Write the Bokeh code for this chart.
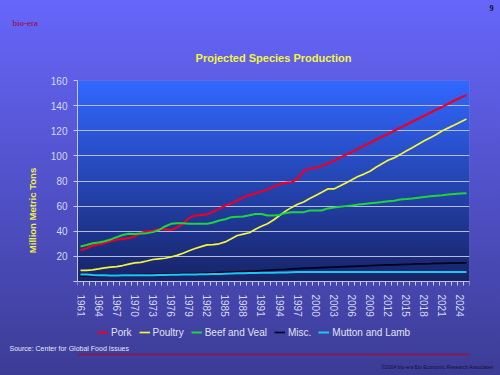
import numpy as np
from bokeh.plotting import figure
from bokeh.models import (Range1d, FixedTicker, Legend, LegendItem, Title, LinearAxis, BoxAnnotation)
from bokeh.embed import file_html
from bokeh.resources import INLINE

years = list(range(1961, 2026))
pork = [24.7, 26.5, 28.5, 29.5, 30.5, 32.0, 33.4, 34.0, 34.5, 36.0,
        38.5, 40.0, 40.3, 41.8, 41.5, 41.0, 43.0, 46.0, 50.5, 52.5,
        53.0, 53.5, 55.5, 58.0, 60.5, 62.0, 64.5, 67.0, 68.8, 70.0,
        71.8, 73.0, 75.5, 77.5, 78.5, 79.0, 82.0, 88.0, 90.0, 90.3,
        92.0, 94.0, 96.0, 98.5, 100.8, 103.0, 105.5, 108.0, 110.3, 112.8,
        115.2, 117.5, 120.0, 122.3, 124.8, 127.2, 129.5, 132.0, 134.3, 136.8,
        139.0, 141.5, 144.0, 146.3, 148.5]
poultry = [8.8, 8.8, 9.2, 10.0, 10.9, 11.5, 11.9, 12.7, 13.8, 14.8,
           15.2, 16.3, 17.5, 18.0, 18.5, 19.5, 20.8, 22.5, 24.5, 26.3,
           27.8, 29.2, 29.3, 30.0, 31.5, 34.0, 36.6, 37.7, 38.8, 41.5,
           44.0, 46.0, 49.0, 52.5, 56.0, 59.0, 61.5, 63.3, 66.0, 68.4,
           71.0, 73.7, 73.7, 76.0, 78.5, 81.0, 83.6, 85.5, 87.8, 91.0,
           93.8, 96.5, 98.4, 101.0, 103.8, 106.5, 109.2, 112.0, 114.5, 117.0,
           120.0, 122.3, 124.5, 127.0, 129.4]
beef = [27.9, 29.0, 30.5, 31.0, 32.1, 33.5, 35.3, 37.0, 38.0, 37.9,
        38.2, 38.5, 39.3, 41.0, 43.8, 45.9, 46.3, 46.4, 46.0, 45.9,
        45.9, 45.9, 47.0, 48.5, 49.5, 51.2, 51.5, 51.7, 52.8, 53.8,
        53.8, 52.5, 52.5, 53.0, 54.5, 55.2, 55.2, 55.2, 56.5, 56.5,
        56.5, 58.2, 58.8, 59.5, 60.0, 60.5, 61.2, 61.7, 62.2, 62.7,
        63.2, 63.8, 64.3, 65.3, 65.6, 66.0, 66.6, 67.2, 67.8, 68.3,
        68.7, 69.2, 69.6, 70.0, 70.3]
misc = [4.3, 4.5, 4.6, 4.8, 4.9, 5.0, 5.1, 5.2, 5.3, 5.4,
        5.5, 5.6, 5.7, 5.8, 5.9, 6.0, 6.1, 6.2, 6.2, 6.3,
        6.5, 6.7, 6.9, 7.1, 7.3, 7.5, 7.7, 7.9, 8.1, 8.3,
        8.6, 8.9, 9.2, 9.5, 9.7, 10.0, 10.2, 10.4, 10.6, 10.8,
        11.0, 11.2, 11.4, 11.6, 11.8, 12.0, 12.2, 12.4, 12.6, 12.8,
        13.0, 13.2, 13.3, 13.5, 13.7, 13.8, 14.0, 14.1, 14.2, 14.4,
        14.5, 14.6, 14.7, 14.8, 14.9]
mutton = [5.6, 5.5, 5.2, 5.0, 4.9, 4.8, 4.8, 4.9, 4.9, 5.0,
          5.0, 5.0, 5.0, 5.1, 5.2, 5.3, 5.4, 5.5, 5.5, 5.6,
          5.7, 5.8, 5.9, 6.0, 6.2, 6.4, 6.5, 6.6, 6.7, 6.8,
          6.9, 7.0, 7.0, 7.1, 7.2, 7.4, 7.6, 7.6, 7.6, 7.6,
          7.6, 7.6, 7.6, 7.6, 7.6, 7.6, 7.6, 7.6, 7.6, 7.6,
          7.6, 7.6, 7.6, 7.6, 7.6, 7.6, 7.6, 7.6, 7.6, 7.6,
          7.6, 7.6, 7.6, 7.6, 7.6]
series_names = ["Pork", "Poultry", "Beef and Veal", "Misc.", "Mutton and Lamb"]
series_colors = ["#E8002A", "#F5F53A", "#1ED63A", "#000022", "#1CC8F0"]
tick_years = [1961, 1964, 1967, 1970, 1973, 1976, 1979, 1982, 1985, 1988, 1991,
              1994, 1997, 2000, 2003, 2006, 2009, 2012, 2015, 2018, 2021, 2024]
y_ticks = [0, 20, 40, 60, 80, 100, 120, 140, 160]

W, H = 500, 375
FL, FR, FT = 77, 469, 80      # plot-area left/right/top (px)
Y0PX = 281                    # pixel row of value 0
FB = 340                      # frame extends below the plot area to hold the legend
FONT = "Liberation Sans"
YMAX = 160
units_per_px = YMAX / (Y0PX - FT)
y_start = -(FB - Y0PX) * units_per_px

p = figure(frame_width=FR - FL, frame_height=FB - FT, output_backend="svg", toolbar_location=None,
           x_range=Range1d(1960.5, 2025.5), y_range=Range1d(y_start, YMAX), title=None,
           min_border_left=FL, min_border_right=W - FR, min_border_top=FT, min_border_bottom=0)
p.styles = {"background": "linear-gradient(to bottom, rgb(102,102,250) 0px, rgb(81,81,201) 187px, "
                          "rgb(60,60,150) 375px, rgb(60,60,150) 100%)"}
p.border_fill_color = None
p.background_fill_color = None
p.outline_line_color = None

# plot-area gradient
N = 100
img = np.zeros((N, 1), dtype=np.uint32)
view = img.view(dtype=np.uint8).reshape((N, 1, 4))
top_c = np.array([50, 104, 255])
bot_c = np.array([24, 36, 104])
for i in range(N):
    t = i / (N - 1)
    c = bot_c + (top_c - bot_c) * t
    view[i, 0, 0] = int(c[0]); view[i, 0, 1] = int(c[1]); view[i, 0, 2] = int(c[2]); view[i, 0, 3] = 255
p.image_rgba(image=[img], x=1960.5, y=0, dw=65, dh=YMAX, level="image")
p.add_layout(BoxAnnotation(left=1960.5, right=2025.5, bottom=0, top=YMAX, fill_alpha=0,
                           line_color="#A8B0D8", line_width=1))

# grid
p.xgrid.grid_line_color = None
p.ygrid.grid_line_color = "#B4BCDC"
p.ygrid.grid_line_width = 1.2
p.ygrid.ticker = FixedTicker(ticks=y_ticks)

# y axis
p.yaxis.ticker = FixedTicker(ticks=y_ticks)
p.yaxis.bounds = (0, YMAX)
p.yaxis.major_label_overrides = {0: ""}
p.yaxis.axis_label = "Million Metric Tons"
p.yaxis.axis_label_text_font = FONT
p.yaxis.axis_label_text_font_style = "bold"
p.yaxis.axis_label_text_font_size = "9.5px"
p.yaxis.axis_label_text_color = "#F0F040"
p.yaxis.axis_label_standoff = 10
p.yaxis.major_label_text_font = FONT
p.yaxis.major_label_text_font_size = "10px"
p.yaxis.major_label_text_color = "#D4D8F2"
p.yaxis.major_label_standoff = 6
p.yaxis.axis_line_color = "#C8CCE8"
p.yaxis.major_tick_line_color = "#C8CCE8"
p.yaxis.major_tick_out = 4
p.yaxis.major_tick_in = 0
p.yaxis.minor_tick_line_color = None

# x axis (drawn at value 0)
xa = p.xaxis[0]
xa.fixed_location = 0
xa.ticker = FixedTicker(ticks=tick_years, minor_ticks=[y - 0.5 for y in years] + [2025.5])
xa.major_label_overrides = {y: str(y) for y in tick_years}
xa.major_label_orientation = "vertical"
xa.major_label_text_font = FONT
xa.major_label_text_font_size = "10px"
xa.major_label_text_color = "#D4D8F2"
xa.major_label_standoff = 9
xa.axis_line_color = "#C8CCE8"
xa.major_tick_line_color = None
xa.major_tick_out = 4
xa.major_tick_in = 0
xa.minor_tick_line_color = "#C8CCE8"
xa.minor_tick_out = 4
xa.minor_tick_in = 0

# series
renderers = []
for vals, col, lw in zip([pork, poultry, beef, misc, mutton], series_colors, [2.2, 1.7, 2.0, 1.7, 2.0]):
    r = p.line(years, vals, line_color=col, line_width=lw)
    renderers.append(r)

legend = Legend(items=[LegendItem(label=n, renderers=[r]) for n, r in zip(series_names, renderers)],
                orientation="horizontal", location=(20, 2),
                background_fill_alpha=0, border_line_color=None,
                label_text_color="#E2E2F2", label_text_font=FONT, label_text_font_size="10px",
                glyph_width=11, glyph_height=12, label_height=12, label_standoff=3, spacing=7,
                padding=0, margin=0)
p.add_layout(legend, "center")

# texts above the plot (first is nearest the frame)
t_main = Title(text="Projected Species Production", align="center", text_font=FONT,
               text_font_size="11px", text_font_style="bold", text_color="#F5F53A", standoff=33)
t_bio = Title(text="bio-era", align="left", offset=12 - FL, text_font="Liberation Serif",
              text_font_size="9px", text_font_style="normal", text_color="#A00038", standoff=11)
t_nine = Title(text="9", align="right", offset=-(W - 7 - FR), text_font="Liberation Serif",
               text_font_size="8px", text_font_style="bold", text_color="#101020", standoff=0)
p.above = [t_main, t_bio, t_nine]

# texts below the frame
t_source = Title(text="Source: Center for Global Food Issues", align="left", offset=9 - FL,
                 text_font=FONT, text_font_size="7px", text_font_style="normal",
                 text_color="#E8E8F8", standoff=5)
red_axis = LinearAxis(ticker=FixedTicker(ticks=[]), axis_line_color="#9A1040", axis_line_width=1.3,
                      major_tick_line_color=None, minor_tick_line_color=None,
                      major_tick_out=0, major_tick_in=0, minor_tick_out=0, minor_tick_in=0,
                      major_label_standoff=0, axis_label_standoff=0)
t_copy = Title(text="\u00a92004 bio-era Bio Economic Research Associates", align="right",
               offset=-(W - 7 - FR), text_font=FONT, text_font_size="5px",
               text_font_style="normal", text_color="#101030", standoff=14)
p.below = [t_source, red_axis, t_copy, xa]

open("out.html", "w").write(file_html(p, INLINE))
